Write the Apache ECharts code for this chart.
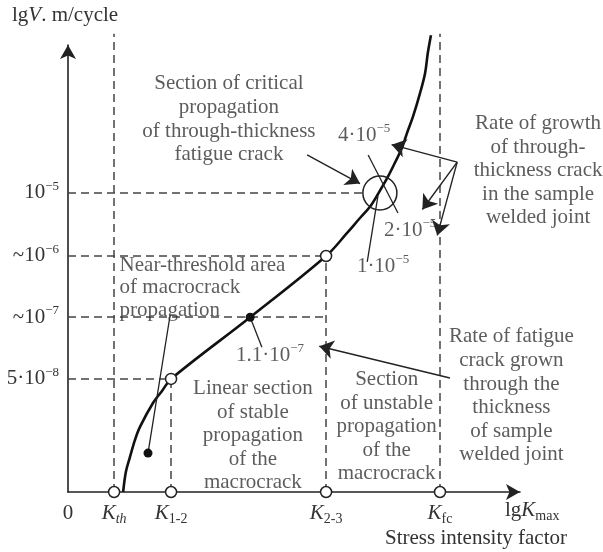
<!DOCTYPE html>
<html><head><meta charset="utf-8">
<script src="https://cdn.jsdelivr.net/npm/echarts@6/dist/echarts.min.js"></script>
<style>html,body{margin:0;padding:0;background:#fff}#c{width:603px;height:552px}</style>
</head><body><div id="c"></div>
<script>
// ---- schematic data (normalized units: K 0..100, V 0..100) ----
const curveK = [12.2,12.8,13.7,14.8,15.9,18.8,20.8,22.8,40.3,57.1,61.7,64.6,66.8,68.6,70.6,72.3,73.9,75.0,76.3,77.9,79.0,79.6,80.3];
const curveV = [0,4.5,7.8,11.6,14.5,19.9,22.6,25.3,39.1,52.8,57.9,61.3,63.8,66.7,70.2,73.6,77.0,80.3,83.9,89.3,93.7,98.2,102.2];
const kTickValues = [0, 10.2, 22.8, 57.1, 82.3];
const kTickLabels = ['0', 'K_th', 'K_1-2', 'K_2-3', 'K_fc'];
const vTickValues = [25.3, 39.1, 52.8, 66.9];
const vTickLabels = ['5·10^−8', '~10^−7', '~10^−6', '10^−5'];
const vGuideK = [10.2, 22.8, 57.1, 82.3];
const vGuideTop = [102.5, 25.3, 52.8, 102.5];
const hGuideV = [25.3, 39.1, 52.8, 66.9];
const hGuideEnd = [22.8, 57.1, 57.1, 65.3];
const openCurvePts = [[22.8, 25.3], [57.1, 52.8]];
const filledPts = [[40.3, 39.1], [17.7, 8.7]];
const criticalPt = [69.0, 66.9];

const F = "'Liberation Serif','Times New Roman',serif";
const TC = '#333';
const richBase = {
  n: {fontFamily: F, fontSize: 21, color: TC, lineHeight: 26},
  i: {fontFamily: F, fontSize: 21, color: TC, lineHeight: 26, fontStyle: 'italic'},
  s: {fontFamily: F, fontSize: 13, color: TC, lineHeight: 14, verticalAlign: 'top'},
  b: {fontFamily: F, fontSize: 14, color: TC, lineHeight: 14, verticalAlign: 'bottom'},
  bi: {fontFamily: F, fontSize: 14, color: TC, lineHeight: 14, verticalAlign: 'bottom', fontStyle: 'italic'}
};
function supText(t) {
  const p = t.split('^');
  return p.length > 1 ? '{n|' + p[0] + '}{s|' + p[1] + '}' : '{n|' + t + '}';
}
function kText(t) {
  const p = t.split('_');
  if (p.length < 2) return '{n|' + t + '}';
  const sub = p[1] === 'th' ? '{bi|' + p[1] + '}' : '{b|' + p[1] + '}';
  return '{i|' + p[0] + '}' + sub;
}
function nearest(vals, v) {
  let bi = 0;
  vals.forEach((x, i) => { if (Math.abs(x - v) < Math.abs(vals[bi] - v)) bi = i; });
  return bi;
}

const curveData = curveK.map((k, i) => [k, curveV[i]]);
const guideLines = vGuideK.map((k, i) => ({coords: [[k, 0], [k, vGuideTop[i]]]}))
  .concat(hGuideV.map((v, i) => ({coords: [[0, v], [hGuideEnd[i], v]]})));
const axisCircles = kTickValues.slice(1).map(k => [k, 0]);

const leaders = [
  [[22.6, 39.6], [17.7, 8.7]],
  [[40.3, 39.1], [42.9, 32.4]],
  [[66.4, 75.4], [73.0, 62.4]],
  [[68.6, 66.4], [66.2, 51.5]]
];
const arrows = [
  [[52.9, 75.4], [64.6, 69.0]],
  [[86.1, 73.8], [71.6, 77.7]],
  [[86.1, 73.8], [78.4, 63.2]],
  [[86.1, 73.8], [81.7, 57.4]],
  [[84.5, 25.5], [55.6, 32.6]]
];
const notes = [
  {p: [35.6, 83.4], t: 'Section of critical\npropagation\nof through-thickness\nfatigue crack'},
  {p: [104.0, 71.9], t: 'Rate of growth\nof through-\nthickness crack\nin the sample\nwelded joint'},
  {p: [98.1, 21.5], t: 'Rate of fatigue\ncrack grown\nthrough the\nthickness\nof sample\nwelded joint'},
  {p: [70.5, 14.6], t: 'Section\nof unstable\npropagation\nof the\nmacrocrack'},
  {p: [40.9, 12.6], t: 'Linear section\nof stable\npropagation\nof the\nmacrocrack'},
  {p: [65.5, 79.8], t: supText('4·10^−5')},
  {p: [75.7, 58.6], t: supText('2·10^−5')},
  {p: [69.7, 50.5], t: supText('1·10^−5')},
  {p: [44.7, 30.6], t: supText('1.1·10^−7')}
];

const chart = echarts.init(document.getElementById('c'), null, {renderer: 'canvas'});
const lineCol = '#222';
chart.setOption({
  backgroundColor: '#fff',
  animation: false,
  grid: {left: 68, right: 83, top: 45, bottom: 60},
  xAxis: {
    type: 'value', min: 0, max: 100,
    axisLine: {show: true, symbol: ['none', 'arrow'], symbolSize: [12, 14], lineStyle: {color: lineCol, width: 1.6}},
    axisTick: {show: false}, splitLine: {show: false},
    axisLabel: {
      customValues: kTickValues, margin: 8, rich: richBase,
      formatter: v => kText(kTickLabels[nearest(kTickValues, v)])
    }
  },
  yAxis: {
    type: 'value', min: 0, max: 100,
    axisLine: {show: true, symbol: ['none', 'arrow'], symbolSize: [12, 14], lineStyle: {color: lineCol, width: 1.6}},
    axisTick: {show: false}, splitLine: {show: false},
    axisLabel: {
      customValues: vTickValues, margin: 9, rich: richBase,
      formatter: v => supText(vTickLabels[nearest(vTickValues, v)])
    }
  },
  graphic: [
    {type: 'text', left: 12, top: 5, style: {
      text: '{n|lg}{i|V}{n|. m/cycle}',
      rich: {n: {fontFamily: F, fontSize: 21, fill: TC, lineHeight: 24}, i: {fontFamily: F, fontSize: 21, fill: TC, lineHeight: 24, fontStyle: 'italic'}}
    }},
    {type: 'text', left: 505, top: 500, style: {
      text: '{n|lg}{i|K}{b|max}',
      rich: {n: {fontFamily: F, fontSize: 21, fill: TC, lineHeight: 26}, i: {fontFamily: F, fontSize: 21, fill: TC, lineHeight: 26, fontStyle: 'italic'},
             b: {fontFamily: F, fontSize: 14, fill: TC, lineHeight: 14, verticalAlign: 'bottom'}}
    }},
    {type: 'text', left: 385, top: 528, style: {text: 'Stress intensity factor', fontFamily: F, fontSize: 21, fill: TC}}
  ],
  series: [
    {type: 'lines', coordinateSystem: 'cartesian2d', clip: false, z: 1,
     lineStyle: {color: '#444', width: 1.5, type: [8, 5], opacity: 1},
     data: guideLines},
    {type: 'line', data: curveData, smooth: 0.35, showSymbol: false, symbol: 'none', clip: false, z: 3,
     lineStyle: {color: '#111', width: 2.6}},
    {type: 'lines', coordinateSystem: 'cartesian2d', clip: false, z: 4,
     lineStyle: {color: lineCol, width: 1.3, opacity: 1},
     data: leaders.map(c => ({coords: c}))},
    {type: 'lines', coordinateSystem: 'cartesian2d', clip: false, z: 4,
     symbol: ['none', 'arrow'], symbolSize: [10, 14],
     lineStyle: {color: lineCol, width: 1.4, opacity: 1},
     data: arrows.map(c => ({coords: c}))},
    {type: 'scatter', data: axisCircles.concat(openCurvePts), symbolSize: 11, clip: false, z: 6,
     itemStyle: {color: '#fff', borderColor: '#222', borderWidth: 1.5, opacity: 1}},
    {type: 'scatter', data: filledPts, symbolSize: 9, clip: false, z: 6,
     itemStyle: {color: '#111', opacity: 1}},
    {type: 'scatter', data: [criticalPt], symbolSize: 34, clip: false, z: 5,
     itemStyle: {color: 'rgba(0,0,0,0)', borderColor: '#222', borderWidth: 1.5, opacity: 1}},
    {type: 'scatter', clip: false, z: 7, symbolSize: 1, silent: true,
     itemStyle: {color: 'rgba(0,0,0,0)'},
     label: {show: true, position: 'inside', fontFamily: F, fontSize: 21, color: TC, lineHeight: 23.6, align: 'center', rich: richBase},
     data: notes.map(n => ({value: n.p, label: {formatter: n.t}}))
      .concat([{value: [11.3, 45.7], label: {formatter: 'Near-threshold area\nof macrocrack\npropagation', position: 'right', distance: 0, align: 'left', lineHeight: 22.5}}])
    }
  ]
});
</script></body></html>
